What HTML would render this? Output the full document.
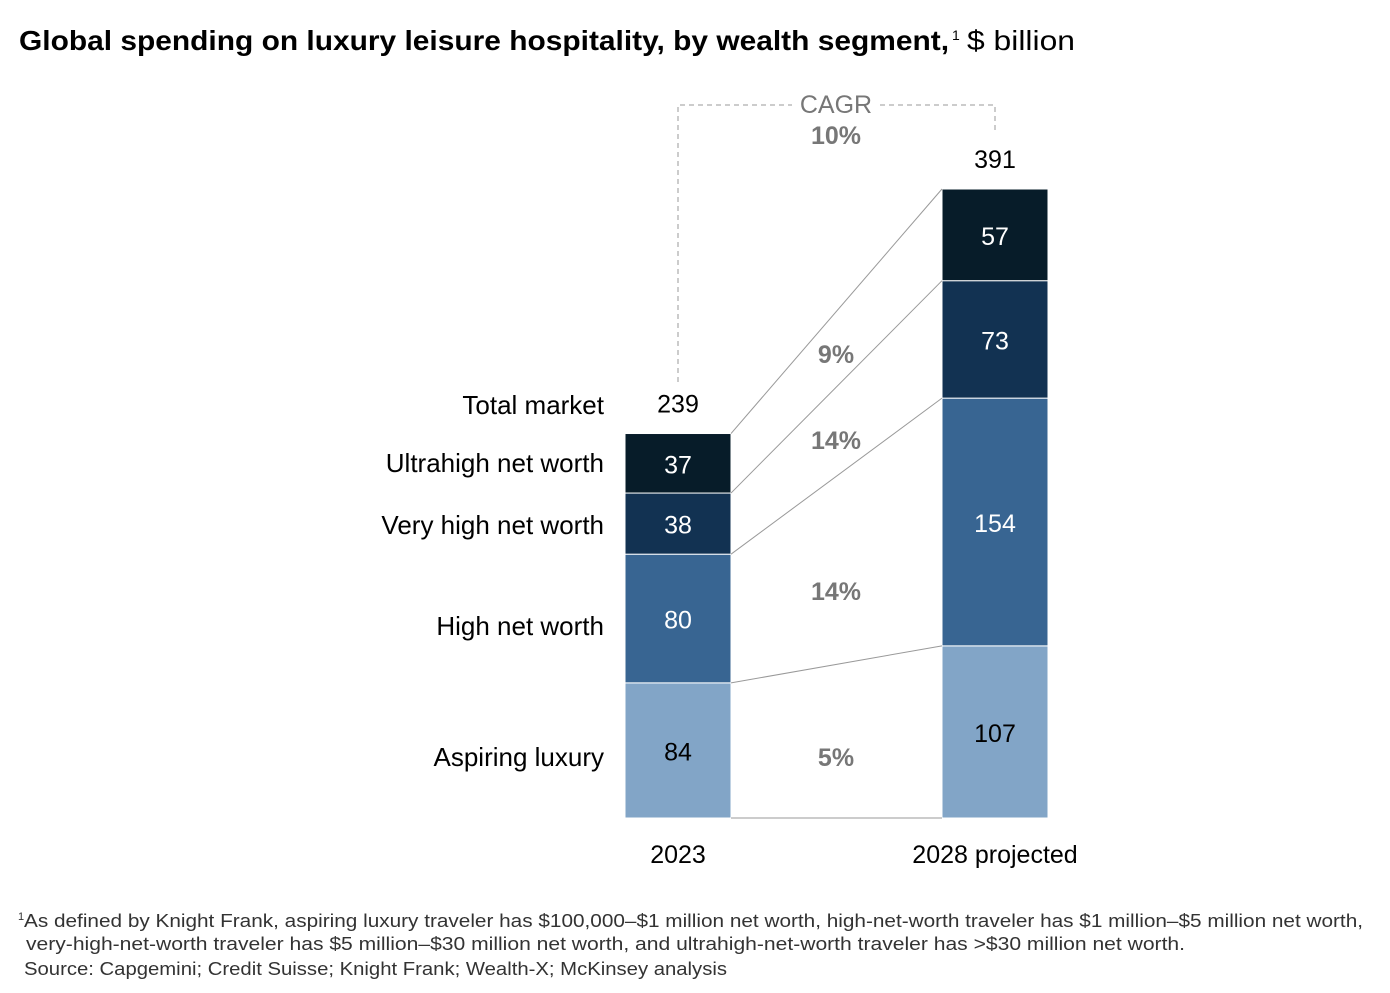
<!DOCTYPE html>
<html><head><meta charset="utf-8"><style>
body{margin:0;background:#fff;width:1390px;height:988px;overflow:hidden;font-family:"Liberation Sans",sans-serif}
svg text{font-family:"Liberation Sans",sans-serif}
</style></head><body>
<svg width="1390" height="988">
<g>
<text x="19" y="50" font-size="28" font-weight="bold" fill="#000" textLength="930" lengthAdjust="spacingAndGlyphs">Global spending on luxury leisure hospitality, by wealth segment,</text>
<text x="952" y="40" font-size="14" fill="#000">1</text>
<text x="967" y="50" font-size="28" fill="#000" textLength="108" lengthAdjust="spacingAndGlyphs">$ billion</text>
</g>
<g id="plot"></g>
<g font-size="18" fill="#333">
<text x="18" y="920" font-size="11">1</text>
<text x="24" y="927" textLength="1339" lengthAdjust="spacingAndGlyphs">As defined by Knight Frank, aspiring luxury traveler has $100,000–$1 million net worth, high-net-worth traveler has $1 million–$5 million net worth,</text>
<text x="26" y="950" textLength="1159" lengthAdjust="spacingAndGlyphs">very-high-net-worth traveler has $5 million–$30 million net worth, and ultrahigh-net-worth traveler has &gt;$30 million net worth.</text>
<text x="24" y="975" textLength="703" lengthAdjust="spacingAndGlyphs">Source: Capgemini; Credit Suisse; Knight Frank; Wealth-X; McKinsey analysis</text>
</g>
</svg>
<script>
const years=["2023","2028 projected"];
const segments=["Aspiring luxury","High net worth","Very high net worth","Ultrahigh net worth"];
const v2023=[84,80,38,37];
const v2028=[107,154,73,57];
const growth=["5%","14%","14%","9%"];
const cagr="10%";
const colors=["#82a5c7","#386592","#123252","#071c29"];
const textColors=["#000","#fff","#fff","#fff"];
const NS="http://www.w3.org/2000/svg";
const g=document.getElementById("plot");
const base=818, scale=629/391, bw=106, bx=[625,942];
const y=v=>base-v*scale;
function el(t,a,p){const e=document.createElementNS(NS,t);for(const k in a)e.setAttribute(k,a[k]);(p||g).appendChild(e);return e;}
function txt(x,yy,s,a){const e=el("text",Object.assign({x:x,y:yy,"text-anchor":"middle","font-size":25},a));e.textContent=s;return e;}
const series=[v2023,v2028];
const cum=series.map(vals=>{let c=[0];vals.forEach(v=>c.push(c[c.length-1]+v));return c;});
series.forEach((vals,b)=>{
  vals.forEach((v,i)=>{
    const r=el("rect",{x:bx[b],y:y(cum[b][i+1]),width:bw,height:v*scale,fill:colors[i],stroke:"#fff","stroke-width":1});
    
    
    const t=txt(bx[b]+bw/2,y(cum[b][i]+v/2)+10,String(v),{fill:textColors[i]});
    
    
  });
  const tot=cum[b][vals.length];
  const tt=txt(bx[b]+bw/2,y(tot)-21,String(tot),{fill:"#000"});
  
  
  const xl=txt(bx[b]+bw/2,base+45,years[b],{fill:"#000"});
  
  
});
for(let i=0;i<=4;i++){
  const l=el("line",{x1:bx[0]+bw,y1:y(cum[0][i]),x2:bx[1],y2:y(cum[1][i]),stroke:"#999","stroke-width":1});
  
  
}
const gy=[757,591,440,354];
growth.forEach((s,i)=>{
  const t=txt(836,gy[i]+9,s,{fill:"#777","font-weight":"bold"});
  
  
});
const ly=[757,626,525,463];
segments.forEach((s,i)=>{
  const t=txt(604,ly[i]+9,s,{fill:"#000","text-anchor":"end","font-size":26});
  
  
});
const tm=txt(604,414,"Total market",{fill:"#000","text-anchor":"end","font-size":26});


const p=el("path",{d:"M678 382 V105 H792 M880 105 H995 V130",fill:"none",stroke:"#999","stroke-dasharray":"5,4","stroke-width":1});


const c1=txt(836,113,"CAGR",{fill:"#777"});


const c2=txt(836,144,cagr,{fill:"#777","font-weight":"bold"});


</script>
</body></html>
